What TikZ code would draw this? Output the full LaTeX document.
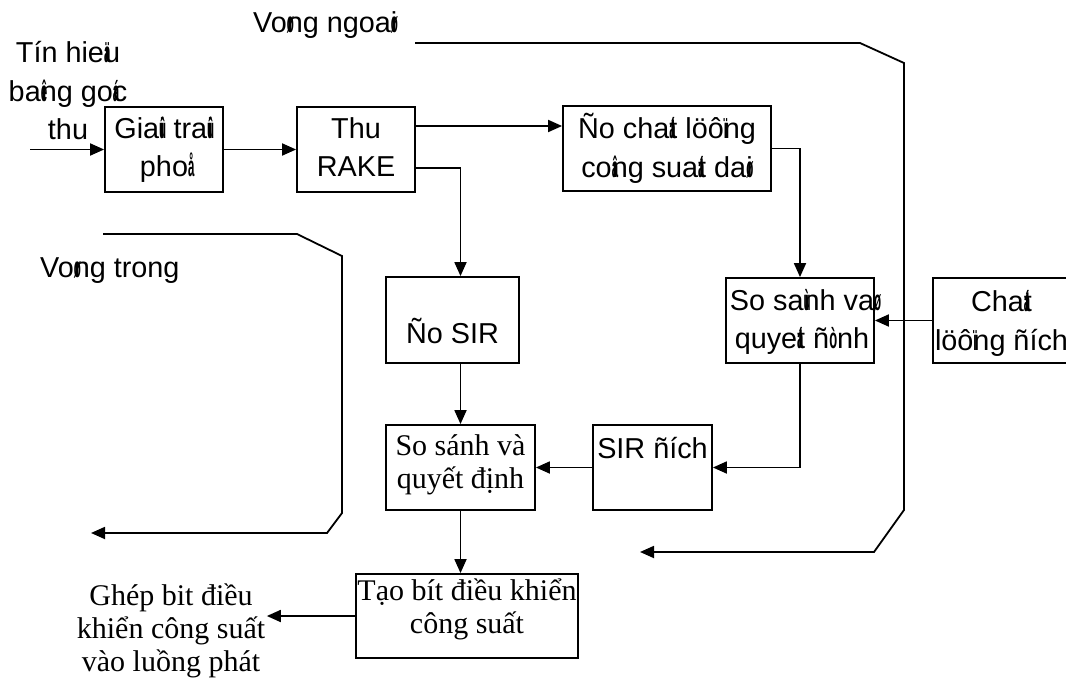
\documentclass[tikz,border=0pt]{standalone}
\usepackage{fontspec}
\setmainfont{Liberation Serif}
\newfontfamily\arialfam{Liberation Sans}
\usepackage{graphicx}
\usetikzlibrary{arrows.meta}
% tone characters of the old 8-bit encoding: printed narrow, over the next letter
\newcommand\vm[1]{\rlap{\scalebox{0.4}[1]{\bfseries #1}}}
\newcommand\nr[1]{\scalebox{0.45}[1]{\bfseries #1}}
\newcommand\stack[1]{\begin{tabular}[t]{@{}c@{}}#1\end{tabular}}

\begin{document}
\begin{tikzpicture}[x=1pt,y=-1pt,
  blk/.style={draw, line width=1.8pt, inner sep=0pt},
  sans/.style={font=\arialfam\fontsize{28.8}{38.5}\selectfont, anchor=base, inner sep=0pt},
  serif/.style={font=\fontsize{30}{33}\selectfont, anchor=base, inner sep=0pt},
  wire/.style={line width=1.8pt},
  arr/.style={wire, -{Triangle[length=14pt,width=12pt]}}]
\useasboundingbox (0,0) rectangle (1066,679);
\clip (0,0) rectangle (1066,679);

% blocks
\node[blk, minimum width=118pt, minimum height=85pt] (giai) at (164,149.5) {};
\node[blk, minimum width=118pt, minimum height=85pt] (thu) at (356,149.5) {};
\node[blk, minimum width=208pt, minimum height=85pt] (dochat) at (667,148.5) {};
\node[blk, minimum width=133pt, minimum height=86pt] (nosir) at (452.5,320) {};
\node[blk, minimum width=148pt, minimum height=85pt] (ssv) at (800,320.5) {};
\node[blk, minimum width=137pt, minimum height=85pt] (chat) at (1001.5,320.5) {};
\node[blk, minimum width=149pt, minimum height=85pt] (sosanh) at (460.5,467.5) {};
\node[blk, minimum width=119pt, minimum height=85pt] (sirdich) at (652.5,467.5) {};
\node[blk, minimum width=222pt, minimum height=84pt] (tao) at (467,616) {};

% labels
\node[sans] (tin) at (68,63) {\stack{Tín hie\vm{ä}u\\ ba\vm{ê}ng go\vm{á}c\\ thu}};
\node[sans] (tgiai) at (164,138.5) {\stack{Gia\vm{û}i tra\vm{û}i\\ pho\vm{å}}};
\node[sans] (tthu) at (356,138.5) {\stack{Thu\\ RAKE}};
\node[sans] (tdochat) at (667,139) {\stack{Ño cha\vm{á}t löô\vm{ï}ng\\ co\vm{â}ng sua\vm{á}t da\vm{ø}i}};
\node[sans] (tssv) at (802,310) {\stack{So sa\vm{ù}nh va\vm{ø}\\ quye\vm{á}t ñ\nr{ò}nh}};
\node[sans] (tchat) at (1001.5,312) {\stack{Cha\vm{á}t\\ löô\vm{ï}ng ñích}};
\node[sans] (tnosir) at (452.5,343) {Ño SIR};
\node[sans] (tsirdich) at (652.5,458) {SIR ñích};
\node[sans, anchor=base west] (tngoai) at (253,33) {Vo\vm{ø}ng ngoa\vm{ø}i};
\node[sans, anchor=base west] (ttrong) at (40,278) {Vo\vm{ø}ng trong};
\node[serif] (tsosanh) at (460.5,455) {\stack{So sánh và\\ quyết định}};
\node[serif] (ttao) at (467,600) {\stack{Tạo bít điều khiển\\ công suất}};
\node[serif, inner sep=1.5pt] (ghep) at (171,605) {\stack{Ghép bit điều\\ khiển công suất\\ vào luồng phát}};

% signal path
\coordinate (src) at (30,149.5);
\draw[arr] (src) -- (giai.west);
\draw[arr] (giai.east) -- (thu.west);
\draw[arr] (thu.east |- 0,126) -- (dochat.west |- 0,126);
\draw[arr] (thu.east |- 0,168) -| (sosanh.north |- nosir.north);
\draw[arr] (sosanh.north |- nosir.south) -- (sosanh.north);
\draw[arr] (sosanh.south) -- (sosanh.south |- tao.north);
\draw[arr] (tao.west) -- (ghep.east |- tao.west);
\draw[arr] (dochat.east) -| (ssv.north);
\draw[arr] (chat.west) -- (ssv.east);
\draw[arr] (ssv.south) |- (sirdich.east);
\draw[arr] (sirdich.west) -- (sosanh.east);

% outer loop
\coordinate (o1) at (415,43);
\coordinate (o2) at (860,43);
\coordinate (o3) at (904,63);
\coordinate (o4) at (904,510);
\coordinate (o5) at (874,552);
\coordinate (o6) at (640,552);
\draw[arr] (o1) -- (o2) -- (o3) -- (o4) -- (o5) -- (o6);

% inner loop
\coordinate (i1) at (103,234);
\coordinate (i2) at (297,234);
\coordinate (i3) at (342,256);
\coordinate (i4) at (342,513);
\coordinate (i5) at (327,533);
\coordinate (i6) at (91,533);
\draw[arr] (i1) -- (i2) -- (i3) -- (i4) -- (i5) -- (i6);
\end{tikzpicture}
\end{document}
